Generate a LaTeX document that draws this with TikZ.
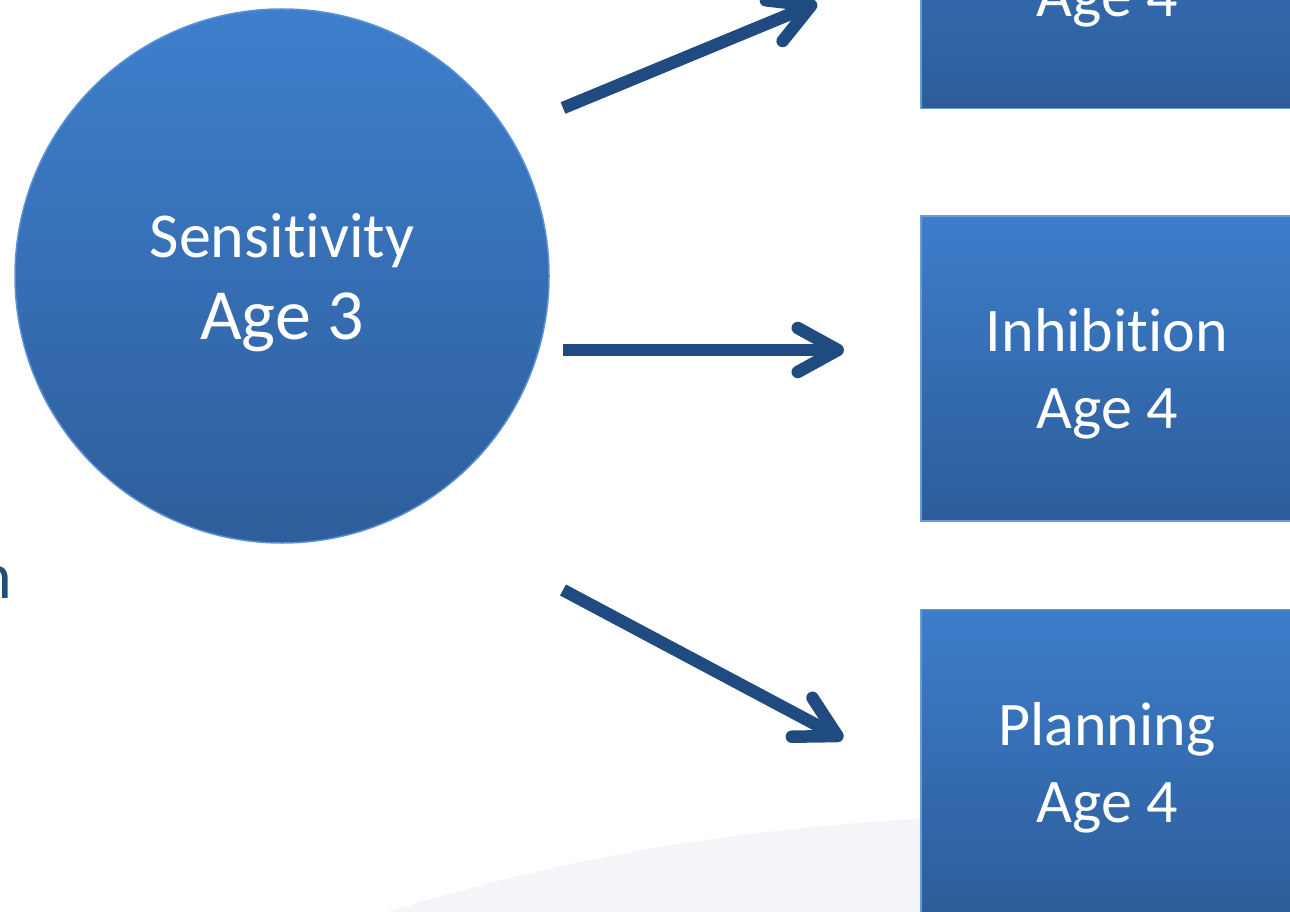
\documentclass[tikz,border=0pt]{standalone}
\usepackage{fontspec}
\setmainfont[Ligatures={NoCommon,NoContextual}]{Carlito}
\usetikzlibrary{positioning,arrows.meta}
\definecolor{circtop}{HTML}{3E7FCD}
\definecolor{circbot}{HTML}{2E5E9B}
\definecolor{circedge}{HTML}{5B91D6}
\definecolor{boxtop}{HTML}{3D7DCB}
\definecolor{boxbot}{HTML}{2C5D99}
\definecolor{boxedge}{HTML}{6A9AD8}
\definecolor{arrowblue}{HTML}{1F4B81}
\definecolor{fragblue}{HTML}{1F4E79}
\definecolor{swooshgray}{HTML}{F3F5F8}
\tikzset{%
sensnode/.style={circle,minimum size=534pt,inner sep=0,top color=circtop,bottom color=circbot,draw=circedge,line width=1.5pt,text=white,align=center,text depth=0pt,font=\fontsize{64}{82}\selectfont},
agebox/.style={rectangle,minimum width=372pt,minimum height=305pt,inner sep=0,top color=boxtop,bottom color=boxbot,draw=boxedge,line width=1.5pt,text=white,align=center,text depth=0pt,font=\fontsize{62}{77}\selectfont},
link/.style={color=arrowblue,line width=12.5pt,-{Straight Barb[length=40pt,width=44pt,round]}},
fragment/.style={text=fragblue,inner sep=0,font=\fontsize{66}{80}\selectfont},
swoosh/.style={fill=swooshgray,draw=none}
}
\begin{document}
\begin{tikzpicture}[x=1pt,y=-1pt]

    \useasboundingbox (0,0) rectangle (1290,912);
    \clip (0,0) rectangle (1290,912);

    \path[swoosh] (387,912) .. controls (520,872) and (700,825) .. (1000,815)
                  -- (1290,812) -- (1290,912) -- cycle;

    \node[fragment,anchor=base east] (frag) at (12,598) {n};

    \node[sensnode] (sens) at (282,276) {Sensitivity\\\fontsize{72}{82}\selectfont Age 3};
    \node[agebox] (inh) at (1107,368.5) {Inhibition\\Age 4};
    \node[agebox,above=106pt of inh] (upper) {\vphantom{Inhibition}\\Age 4};
    \node[agebox,below=87pt of inh] (plan) {Planning\\Age 4};

    \coordinate (s1) at (563,108);
    \coordinate (e1) at (817,3);
    \coordinate (s2) at (563,350);
    \coordinate (e2) at (844,350);
    \coordinate (s3) at (563,590);
    \coordinate (e3) at (843,739);

    \path[link] (s1) edge (e1)
                (s2) edge (e2)
                (s3) edge (e3);

\end{tikzpicture}
\end{document}
